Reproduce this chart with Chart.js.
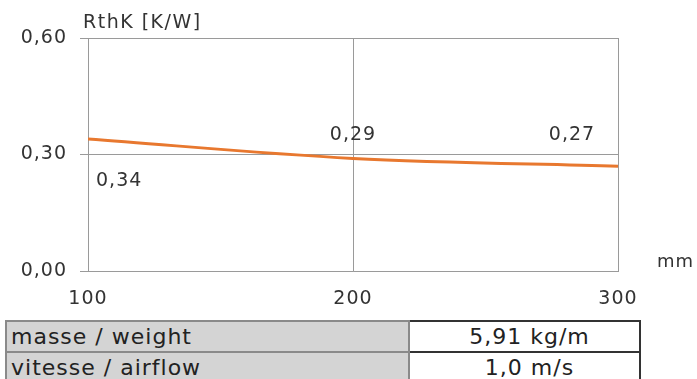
<!DOCTYPE html>
<html>
<head>
<meta charset="utf-8">
<script src="https://cdn.jsdelivr.net/npm/chart.js@4.4.0/dist/chart.umd.min.js"></script>
<style>
  html, body { margin: 0; padding: 0; background: #fff; }
  body { width: 697px; height: 379px; position: relative; overflow: hidden; font-family: "DejaVu Sans", sans-serif; }
  #wrap { position: absolute; left: 0; top: 0; width: 697px; height: 312px; }
  table { position: absolute; left: 5px; top: 320px; width: 634px; table-layout: fixed; border-collapse: collapse; font-size: 22px; color: #222; letter-spacing: 1px; }
  td { height: 29px; padding: 0 0 0 4px; line-height: 29px; white-space: nowrap; overflow: hidden; }
  td.lab { background: #d4d4d4; border: 2px solid #8a8a8a; }
  td.val { text-align: center; background: #fff; border: 2px solid #333; padding-left: 10px; }
</style>
</head>
<body>
<div id="wrap"><canvas id="rthChart" width="697" height="312"></canvas></div>
<table>
  <colgroup><col style="width:403px"><col style="width:231px"></colgroup>
  <tr><td class="lab">masse / weight</td><td class="val">5,91 kg/m</td></tr>
  <tr><td class="lab">vitesse / airflow</td><td class="val">1,0 m/s</td></tr>
</table>
<script>
const lengths = [100, 200, 300];
const rthValues = [0.34, 0.29, 0.27];
const yTicks = [0, 0.3, 0.6];
const xTicks = [100, 200, 300];

const fmt = v => v.toFixed(2).replace(".", ",");
const FONT = "'DejaVu Sans', sans-serif";

const spacing = {
  id: "spacing",
  beforeUpdate(chart) { chart.ctx.letterSpacing = "1px"; },
  beforeDraw(chart) { chart.ctx.letterSpacing = "1px"; }
};

const annotations = {
  id: "annotations",
  afterDatasetsDraw(chart) {
    const { ctx, scales: { x, y }, chartArea } = chart;
    ctx.save();
    ctx.fillStyle = "#333";
    ctx.textBaseline = "middle";

    // axis titles
    ctx.textAlign = "left";
    ctx.letterSpacing = "1.5px";
    ctx.font = "19px " + FONT;
    ctx.fillText("RthK [K/W]", chartArea.left - 5, 23);
    ctx.letterSpacing = "1px";
    ctx.font = "18px " + FONT;
    ctx.fillText("mm", 657, chartArea.bottom - 9);

    // value labels
    ctx.font = "19px " + FONT;
    rthValues.forEach((v, i) => {
      const px = x.getPixelForValue(lengths[i]);
      const py = y.getPixelForValue(v);
      if (i === 0) {
        ctx.textAlign = "left";
        ctx.fillText(fmt(v), px + 8, py + 42);
      } else if (i === lengths.length - 1) {
        ctx.textAlign = "center";
        ctx.fillText(fmt(v), px - 46, py - 31);
      } else {
        ctx.textAlign = "center";
        ctx.fillText(fmt(v), px, py - 23);
      }
    });
    ctx.restore();
  }
};

new Chart(document.getElementById("rthChart").getContext("2d"), {
  type: "line",
  data: {
    datasets: [{
      data: lengths.map((l, i) => ({ x: l, y: rthValues[i] })),
      borderColor: "#e8782f",
      borderWidth: 3,
      pointRadius: 0,
      cubicInterpolationMode: "monotone",
      fill: false
    }]
  },
  options: {
    responsive: false,
    animation: false,
    layout: { padding: { top: 38, right: 79, left: 0, bottom: 0 } },
    plugins: { legend: { display: false }, tooltip: { enabled: false } },
    scales: {
      x: {
        type: "linear",
        min: 100,
        max: 300,
        afterBuildTicks: s => { s.ticks = xTicks.map(v => ({ value: v })); },
        afterFit: s => { s.height = 41; },
        grid: { color: "#9a9a9a", lineWidth: 1, drawTicks: false },
        border: { color: "#9a9a9a" },
        ticks: { color: "#333", font: { size: 19, family: FONT }, padding: 17, maxRotation: 0 }
      },
      y: {
        min: 0,
        max: 0.6,
        afterBuildTicks: s => { s.ticks = yTicks.map(v => ({ value: v })); },
        afterFit: s => { s.width = 88; },
        grid: { color: "#9a9a9a", lineWidth: 1, tickLength: 8 },
        border: { color: "#9a9a9a" },
        ticks: { color: "#333", font: { size: 19, family: FONT }, padding: 13, callback: v => fmt(v) }
      }
    }
  },
  plugins: [spacing, annotations]
});
</script>
</body>
</html>
